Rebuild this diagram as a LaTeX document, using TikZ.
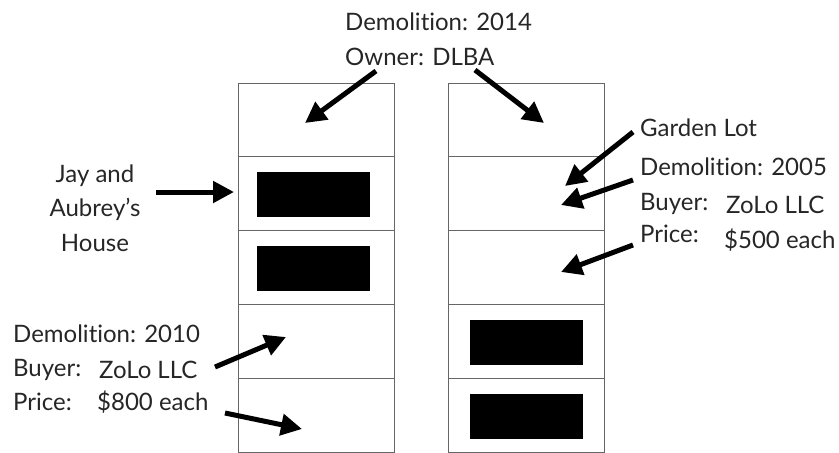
\documentclass[tikz,border=0pt]{standalone}
\usepackage{fontspec}
\setmainfont{Lato}[Ligatures={NoCommon,NoDiscretionary,NoRare}]
\usetikzlibrary{arrows.meta}
\begin{document}
\begin{tikzpicture}[x=1pt,y=-1pt,
  cell/.style={draw=black!60,line width=1pt,minimum width=156pt,minimum height=73.8pt,inner sep=0pt,outer sep=0pt},
  house/.style={fill=black,minimum width=113pt,minimum height=45pt,inner sep=0pt},
  lbl/.style={anchor=base west,inner sep=0pt,font=\fontsize{24}{28}\selectfont,text=black!85},
  clbl/.style={anchor=base,inner sep=0pt,font=\fontsize{24}{28}\selectfont,text=black!85},
  bigarrow/.style={line width=5pt,-{Triangle[length=21pt,width=21pt]}}]
\useasboundingbox (0,0) rectangle (839,453);
% columns of lots
\foreach \i/\y in {1/120,2/193.8,3/267.6,4/341.4,5/415.2}{
  \node[cell] (L\i) at (316,\y) {};
  \node[cell] (R\i) at (526,\y) {};
}
\node[house] (hL2) at (313.5,194) {};
\node[house] (hL3) at (313.5,268) {};
\node[house] (hR4) at (526,342) {};
\node[house] (hR5) at (526,416) {};
% labels
\node[lbl] (t1) at (345,30) {Demolition: 2014};
\node[lbl] (t2) at (345,65) {Owner: DLBA};
\node[clbl] (j1) at (95,182) {Jay and};
\node[clbl] (j2) at (95,216) {Aubrey’s};
\node[clbl] (j3) at (95,251) {House};
\node[lbl] (g1) at (640,136) {Garden Lot};
\node[lbl] (g2) at (640,175) {Demolition: 2005};
\node[lbl] (g3) at (640,210) {Buyer:};
\node[lbl] (g4) at (726,213) {ZoLo LLC};
\node[lbl] (g5) at (640,242) {Price:};
\node[lbl] (g6) at (724,248) {\$500 each};
\node[lbl] (d1) at (13,342) {Demolition: 2010};
\node[lbl] (d2) at (13,376) {Buyer:};
\node[lbl] (d3) at (99,378) {ZoLo LLC};
\node[lbl] (d4) at (13,410) {Price:};
\node[lbl] (d5) at (97,410) {\$800 each};
% arrow ends
\coordinate (a1s) at (376,71);   \coordinate (a1e) at (305,123);
\coordinate (a2s) at (475,70);   \coordinate (a2e) at (544,123);
\coordinate (a3s) at (156,192);  \coordinate (a3e) at (234,192);
\coordinate (a4s) at (633,132);  \coordinate (a4e) at (565,186);
\coordinate (a5s) at (633,180);  \coordinate (a5e) at (561,205);
\coordinate (a6s) at (633,245);  \coordinate (a6e) at (561,272);
\coordinate (a7s) at (215,367);  \coordinate (a7e) at (286,337);
\coordinate (a8s) at (225,413);  \coordinate (a8e) at (302,429);
\foreach \k in {1,...,8}{\draw[bigarrow] (a\k s) -- (a\k e);}
\end{tikzpicture}
\end{document}
